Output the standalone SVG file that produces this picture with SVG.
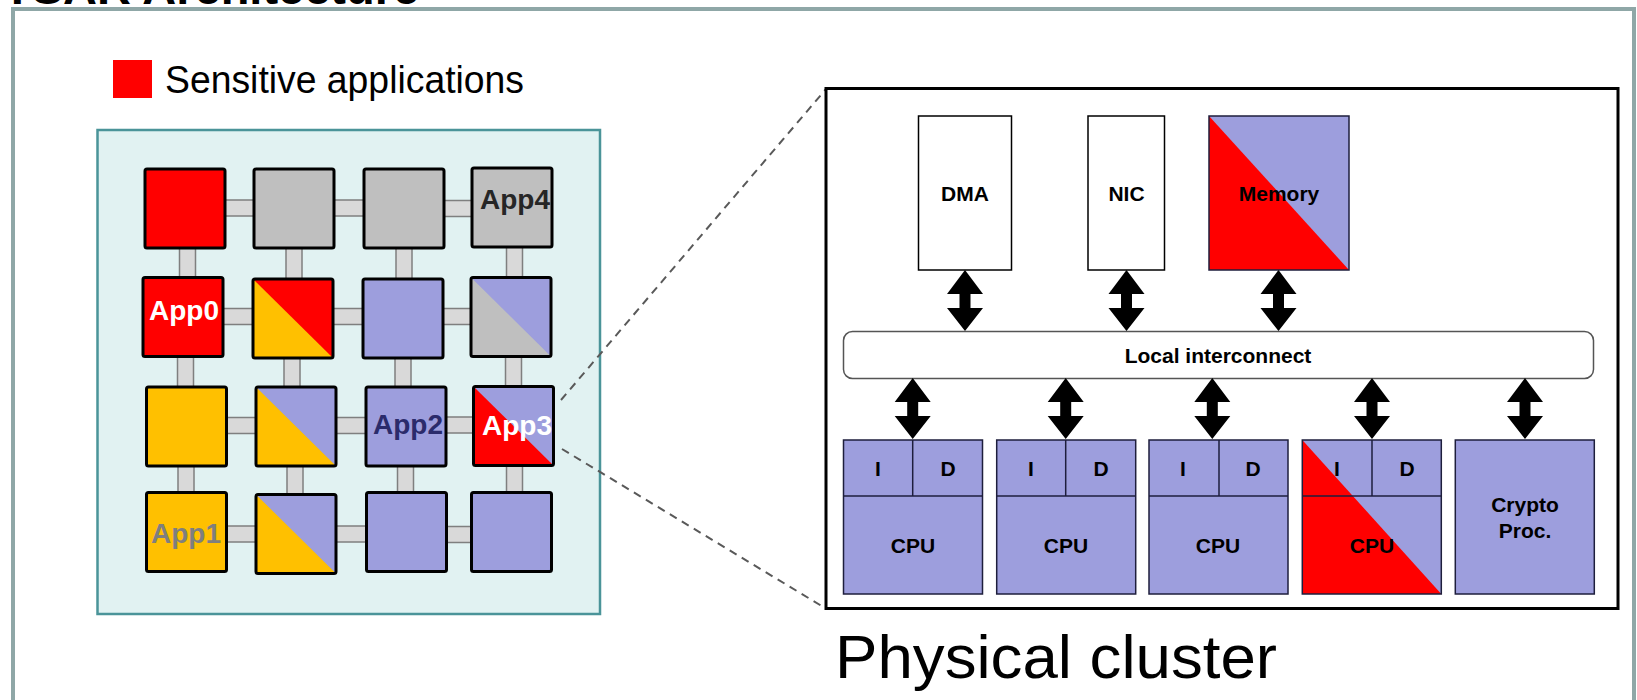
<svg xmlns="http://www.w3.org/2000/svg" width="1637" height="700" viewBox="0 0 1637 700">
  <style>
    .frame { fill: #ffffff; stroke: #8FA7A7; stroke-width: 4; }
    .panel { fill: #E1F2F2; stroke: #4A9499; stroke-width: 2.5; }
    .tile { fill: none; stroke: #000000; stroke-width: 3; }
    .link { fill: #D9D9D9; stroke: #7F7F7F; stroke-width: 1.5; }
    .red { fill: #FF0000; }
    .gray { fill: #BFBFBF; }
    .yel { fill: #FFC000; }
    .pur { fill: #9D9EDD; }
    .app { font-family: "Liberation Sans", Arial, sans-serif; font-weight: bold; font-size: 28px; text-anchor: middle; }
    .lbl { font-family: "Liberation Sans", Arial, sans-serif; font-weight: bold; font-size: 21px; text-anchor: middle; fill: #000000; }
    .box { fill: #ffffff; stroke: #000000; stroke-width: 1.5; }
    .unit { stroke: #1E1E3C; stroke-width: 1.5; }
    .edge { fill: none; stroke: #1E1E3C; stroke-width: 1.5; }
    .zoomline { fill: none; stroke: #595959; stroke-width: 2; stroke-dasharray: 8 6; }
    .dbl { fill: #000000; }
  </style>
  <defs>
    <!-- bidirectional block arrow, tip at origin, 61px long -->
    <path id="dblarrow" d="M0,0 L18,24 L5.5,24 L5.5,38 L18,38 L0,61 L-18,38 L-5.5,38 L-5.5,24 L-18,24 Z"/>
  </defs>

  <rect x="0" y="0" width="1637" height="700" fill="#ffffff"/>

  <!-- slide frame and title -->
  <rect class="frame" x="13" y="9" width="1621" height="730"/>
  <text x="3" y="4" font-family="Liberation Sans, Arial, sans-serif" font-weight="bold" font-size="47" fill="#000000">TSAR Architecture</text>

  <!-- legend -->
  <g id="legend">
    <rect x="113" y="60" width="39" height="38" fill="#FF0000"/>
    <text x="165" y="93" font-family="Liberation Sans, Arial, sans-serif" font-size="38" textLength="359" lengthAdjust="spacingAndGlyphs" fill="#000000">Sensitive applications</text>
  </g>

  <!-- mesh panel -->
  <rect class="panel" x="97.5" y="130" width="502.5" height="484"/>

  <!-- mesh links -->
  <g id="mesh-links">
    <!-- horizontal -->
    <rect class="link" x="222" y="200" width="36" height="16"/>
    <rect class="link" x="331" y="200" width="37" height="16"/>
    <rect class="link" x="441" y="200.5" width="35" height="16"/>
    <rect class="link" x="220" y="308.5" width="37" height="16"/>
    <rect class="link" x="330" y="308.5" width="37" height="16"/>
    <rect class="link" x="440" y="308.5" width="35" height="16"/>
    <rect class="link" x="223" y="417.5" width="37" height="16"/>
    <rect class="link" x="333" y="417.5" width="37" height="16"/>
    <rect class="link" x="443" y="417" width="35" height="16"/>
    <rect class="link" x="223" y="526" width="37" height="16"/>
    <rect class="link" x="333" y="526" width="37" height="16"/>
    <rect class="link" x="443" y="526.5" width="32" height="16"/>
    <!-- vertical -->
    <rect class="link" x="179.5" y="245" width="16" height="36"/>
    <rect class="link" x="286" y="245" width="16" height="38"/>
    <rect class="link" x="396" y="245" width="16" height="38"/>
    <rect class="link" x="506.5" y="244" width="16" height="37"/>
    <rect class="link" x="177.5" y="353" width="16" height="38"/>
    <rect class="link" x="284" y="355" width="16" height="36"/>
    <rect class="link" x="395" y="355" width="16" height="36"/>
    <rect class="link" x="505.5" y="353" width="16" height="37"/>
    <rect class="link" x="178" y="463" width="16" height="33"/>
    <rect class="link" x="287" y="463" width="16" height="35"/>
    <rect class="link" x="397.5" y="463" width="16" height="33"/>
    <rect class="link" x="506.5" y="462" width="16" height="34"/>
  </g>

  <!-- mesh tiles -->
  <g id="tile-r0c0">
    <rect class="red" x="145" y="169" width="80" height="79"/>
    <rect class="tile" x="145" y="169" width="80" height="79" rx="2"/>
  </g>
  <g id="tile-r0c1">
    <rect class="gray" x="254" y="169" width="80" height="79"/>
    <rect class="tile" x="254" y="169" width="80" height="79" rx="2"/>
  </g>
  <g id="tile-r0c2">
    <rect class="gray" x="364" y="169" width="80" height="79"/>
    <rect class="tile" x="364" y="169" width="80" height="79" rx="2"/>
  </g>
  <g id="tile-r0c3">
    <rect class="gray" x="472" y="168" width="80" height="79"/>
    <rect class="tile" x="472" y="168" width="80" height="79" rx="2"/>
    <text class="app" x="515" y="209" fill="#262626">App4</text>
  </g>

  <g id="tile-r1c0">
    <rect class="red" x="143" y="277.5" width="80" height="79"/>
    <rect class="tile" x="143" y="277.5" width="80" height="79" rx="2"/>
    <text class="app" x="184" y="320" fill="#ffffff">App0</text>
  </g>
  <g id="tile-r1c1">
    <rect class="red" x="253" y="279" width="80" height="79"/>
    <polygon class="yel" points="253,279 253,358 333,358"/>
    <rect class="tile" x="253" y="279" width="80" height="79" rx="2"/>
  </g>
  <g id="tile-r1c2">
    <rect class="pur" x="363" y="279" width="80" height="79"/>
    <rect class="tile" x="363" y="279" width="80" height="79" rx="2"/>
  </g>
  <g id="tile-r1c3">
    <rect class="pur" x="471" y="277.5" width="80" height="79"/>
    <polygon class="gray" points="471,277.5 471,356.5 551,356.5"/>
    <rect class="tile" x="471" y="277.5" width="80" height="79" rx="2"/>
  </g>

  <g id="tile-r2c0">
    <rect class="yel" x="146.5" y="387" width="80" height="79"/>
    <rect class="tile" x="146.5" y="387" width="80" height="79" rx="2"/>
  </g>
  <g id="tile-r2c1">
    <rect class="pur" x="256" y="387" width="80" height="79"/>
    <polygon class="yel" points="256,387 256,466 336,466"/>
    <rect class="tile" x="256" y="387" width="80" height="79" rx="2"/>
  </g>
  <g id="tile-r2c2">
    <rect class="pur" x="366" y="387" width="80" height="79"/>
    <rect class="tile" x="366" y="387" width="80" height="79" rx="2"/>
    <text class="app" x="408" y="434" fill="#2B2B6B">App2</text>
  </g>
  <g id="tile-r2c3">
    <rect class="pur" x="473.5" y="386.5" width="80" height="79"/>
    <polygon class="red" points="473.5,386.5 473.5,465.5 553.5,465.5"/>
    <rect class="tile" x="473.5" y="386.5" width="80" height="79" rx="2"/>
    <text class="app" x="517" y="435" fill="#ffffff">App3</text>
  </g>

  <g id="tile-r3c0">
    <rect class="yel" x="146.5" y="492.5" width="80" height="79"/>
    <rect class="tile" x="146.5" y="492.5" width="80" height="79" rx="2"/>
    <text class="app" x="186" y="543" fill="#7F7F7F">App1</text>
  </g>
  <g id="tile-r3c1">
    <rect class="pur" x="256" y="494.5" width="80" height="79"/>
    <polygon class="yel" points="256,494.5 256,573.5 336,573.5"/>
    <rect class="tile" x="256" y="494.5" width="80" height="79" rx="2"/>
  </g>
  <g id="tile-r3c2">
    <rect class="pur" x="366.5" y="492.5" width="80" height="79"/>
    <rect class="tile" x="366.5" y="492.5" width="80" height="79" rx="2"/>
  </g>
  <g id="tile-r3c3">
    <rect class="pur" x="471.5" y="492.5" width="80" height="79"/>
    <rect class="tile" x="471.5" y="492.5" width="80" height="79" rx="2"/>
  </g>

  <!-- zoom guides from App3 tile to the cluster -->
  <g id="zoom-guides">
    <line class="zoomline" x1="561" y1="400" x2="826" y2="89"/>
    <line class="zoomline" x1="562" y1="449" x2="825" y2="608"/>
  </g>

  <!-- physical cluster -->
  <g id="cluster">
    <rect x="826" y="88.5" width="792" height="520" fill="#ffffff" stroke="#000000" stroke-width="3"/>
  </g>

  <g id="dma">
    <rect class="box" x="918.5" y="116" width="93" height="154"/>
    <text class="lbl" x="965" y="201">DMA</text>
  </g>
  <g id="nic">
    <rect class="box" x="1088" y="116" width="76.5" height="154" stroke="#444444"/>
    <text class="lbl" x="1126.5" y="201">NIC</text>
  </g>
  <g id="memory">
    <rect class="pur" x="1209" y="116" width="140" height="154"/>
    <polygon class="red" points="1209,116 1209,270 1349,270"/>
    <rect class="edge" x="1209" y="116" width="140" height="154"/>
    <text class="lbl" x="1279" y="201">Memory</text>
  </g>

  <g id="interconnect">
    <rect x="843.5" y="331.5" width="750" height="47" rx="9" fill="#ffffff" stroke="#555555" stroke-width="1.5"/>
    <text class="lbl" x="1218" y="363">Local interconnect</text>
  </g>

  <g id="cpu0">
    <rect class="pur" x="843.5" y="440" width="139" height="154"/>
    <rect class="edge" x="843.5" y="440" width="139" height="154"/>
    <line class="edge" x1="843.5" y1="496" x2="982.5" y2="496"/>
    <line class="edge" x1="912.7" y1="440" x2="912.7" y2="496"/>
    <text class="lbl" x="878" y="476">I</text>
    <text class="lbl" x="948" y="476">D</text>
    <text class="lbl" x="913" y="553">CPU</text>
  </g>
  <g id="cpu1">
    <rect class="pur" x="996.7" y="440" width="139" height="154"/>
    <rect class="edge" x="996.7" y="440" width="139" height="154"/>
    <line class="edge" x1="996.7" y1="496" x2="1135.7" y2="496"/>
    <line class="edge" x1="1065.7" y1="440" x2="1065.7" y2="496"/>
    <text class="lbl" x="1031" y="476">I</text>
    <text class="lbl" x="1101" y="476">D</text>
    <text class="lbl" x="1066" y="553">CPU</text>
  </g>
  <g id="cpu2">
    <rect class="pur" x="1149" y="440" width="139" height="154"/>
    <rect class="edge" x="1149" y="440" width="139" height="154"/>
    <line class="edge" x1="1149" y1="496" x2="1288" y2="496"/>
    <line class="edge" x1="1219" y1="440" x2="1219" y2="496"/>
    <text class="lbl" x="1183" y="476">I</text>
    <text class="lbl" x="1253" y="476">D</text>
    <text class="lbl" x="1218" y="553">CPU</text>
  </g>
  <g id="cpu3">
    <rect class="pur" x="1302.3" y="440" width="139" height="154"/>
    <polygon class="red" points="1302.3,440 1302.3,594 1441.3,594"/>
    <rect class="edge" x="1302.3" y="440" width="139" height="154"/>
    <line class="edge" x1="1302.3" y1="496" x2="1441.3" y2="496"/>
    <line class="edge" x1="1372" y1="440" x2="1372" y2="496"/>
    <text class="lbl" x="1337" y="476">I</text>
    <text class="lbl" x="1407" y="476">D</text>
    <text class="lbl" x="1372" y="553">CPU</text>
  </g>
  <g id="crypto">
    <rect class="pur" x="1455.3" y="440" width="139" height="154"/>
    <rect class="edge" x="1455.3" y="440" width="139" height="154"/>
    <text class="lbl" x="1525" y="512">Crypto</text>
    <text class="lbl" x="1525" y="538">Proc.</text>
  </g>

  <!-- cluster connections -->
  <g id="connectors" class="dbl">
    <use href="#dblarrow" x="965" y="270"/>
    <use href="#dblarrow" x="1126.5" y="270"/>
    <use href="#dblarrow" x="1278.5" y="270"/>
    <use href="#dblarrow" x="912.7" y="378"/>
    <use href="#dblarrow" x="1065.7" y="378"/>
    <use href="#dblarrow" x="1212.3" y="378"/>
    <use href="#dblarrow" x="1372" y="378"/>
    <use href="#dblarrow" x="1525" y="378"/>
  </g>

  <text x="835" y="678" font-family="Liberation Sans, Arial, sans-serif" font-size="61" textLength="442" lengthAdjust="spacingAndGlyphs" fill="#000000">Physical cluster</text>
</svg>
